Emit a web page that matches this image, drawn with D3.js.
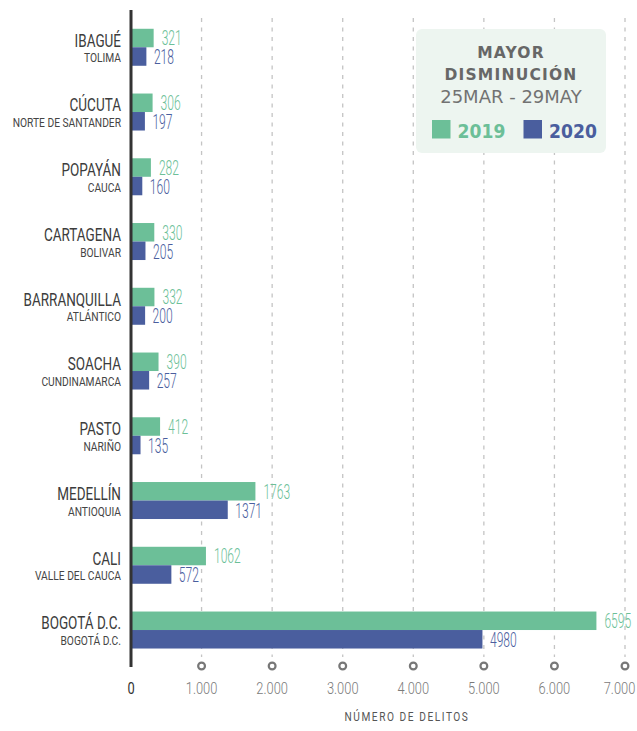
<!DOCTYPE html>
<html>
<head>
<meta charset="utf-8">
<script src="https://cdn.jsdelivr.net/npm/d3@7"></script>
<style>
  html, body { margin: 0; padding: 0; background: #ffffff; }
  svg { display: block; }
</style>
</head>
<body>
<svg id="chart" width="637" height="731"></svg>
<script>
// Cities with the largest drop in reported crimes, 25 Mar - 29 May
const cities = ["IBAGUÉ", "CÚCUTA", "POPAYÁN", "CARTAGENA", "BARRANQUILLA", "SOACHA", "PASTO", "MEDELLÍN", "CALI", "BOGOTÁ D.C."];
const departments = ["TOLIMA", "NORTE DE SANTANDER", "CAUCA", "BOLIVAR", "ATLÁNTICO", "CUNDINAMARCA", "NARIÑO", "ANTIOQUIA", "VALLE DEL CAUCA", "BOGOTÁ D.C."];
const series = ["2019", "2020"];
const values2019 = [321, 306, 282, 330, 332, 390, 412, 1763, 1062, 6595];
const values2020 = [218, 197, 160, 205, 200, 257, 135, 1371, 572, 4980];
const xTicks = [0, 1000, 2000, 3000, 4000, 5000, 6000, 7000];
const legendTitle = ["MAYOR", "DISMINUCIÓN"];
const legendPeriod = "25MAR - 29MAY";
const axisTitle = "NÚMERO DE DELITOS";

const colors = { "2019": "#6cbf98", "2020": "#4a5e9e" };
const valuesBySeries = { "2019": values2019, "2020": values2020 };

const svg = d3.select("#chart");
const narrow = "Roboto, 'Liberation Sans', sans-serif";
const wide = "'DejaVu Sans', sans-serif";

const es = d3.formatLocale({ decimal: ",", thousands: ".", grouping: [3], currency: ["$", ""] });
const fmtTick = es.format(",d");

const x = d3.scaleLinear().domain([0, 7000]).range([131, 625]);
const y = d3.scaleBand().domain(cities).range([14.9, 662.4]).paddingInner(0.4286).paddingOuter(0.2143);
const ySub = d3.scaleBand().domain(series).range([0, y.bandwidth()]);

// Horizontally compressed text, to get a condensed face
function condensed(parent, px, py, text, sx) {
  const g = parent.append("g").attr("transform", `translate(${px},${py}) scale(${sx},1)`);
  return g.append("text").attr("x", 0).attr("y", 0).text(text);
}

// Dashed vertical gridlines
const gridG = svg.append("g");
gridG.selectAll("line")
  .data(xTicks.filter(d => d > 0))
  .join("line")
  .attr("x1", d => x(d)).attr("x2", d => x(d))
  .attr("y1", 18).attr("y2", 657)
  .attr("stroke", "#c4c4c4")
  .attr("stroke-width", 1.3)
  .attr("stroke-dasharray", "4,5.5");

// Legend panel
const lg = svg.append("g");
lg.append("rect")
  .attr("x", 416).attr("y", 29).attr("width", 190).attr("height", 124)
  .attr("rx", 6).attr("fill", "#edf5f0");
legendTitle.forEach((t, i) => {
  lg.append("text")
    .attr("x", 511).attr("y", 57.5 + i * 22.7)
    .attr("text-anchor", "middle")
    .attr("font-family", wide).attr("font-weight", "bold")
    .attr("font-size", 15.5).attr("letter-spacing", 1.2)
    .attr("fill", "#676767")
    .text(t);
});
lg.append("text")
  .attr("x", 511).attr("y", 102.5)
  .attr("text-anchor", "middle")
  .attr("font-family", wide)
  .attr("font-size", 18)
  .attr("fill", "#727272")
  .text(legendPeriod);
const legendX = { "2019": 432, "2020": 523.5 };
series.forEach(s => {
  lg.append("rect")
    .attr("x", legendX[s]).attr("y", 120).attr("width", 18.5).attr("height", 18.5)
    .attr("fill", colors[s]);
  condensed(lg, legendX[s] + 25.5, 138.3, s, 0.86)
    .attr("font-family", wide).attr("font-weight", "bold")
    .attr("font-size", 20)
    .attr("fill", colors[s]);
});

// Bars
const groups = svg.append("g").selectAll("g")
  .data(cities)
  .join("g")
  .attr("transform", d => `translate(0,${y(d)})`);

series.forEach(s => {
  groups.append("rect")
    .attr("x", x(0))
    .attr("y", ySub(s))
    .attr("width", (d, i) => x(valuesBySeries[s][i]) - x(0))
    .attr("height", ySub.bandwidth())
    .attr("fill", colors[s]);
});

// Value labels
groups.each(function (d, i) {
  const g = d3.select(this);
  const bw = ySub.bandwidth();
  condensed(g, x(values2019[i]) + 8, ySub("2019") + bw - 2, values2019[i], 0.62)
    .attr("font-family", narrow).attr("font-weight", 300)
    .attr("font-size", 19.5).attr("fill", colors["2019"]);
  condensed(g, x(values2020[i]) + 7.5, ySub("2020") + bw - 1.5, values2020[i], 0.62)
    .attr("font-family", narrow).attr("font-weight", 300)
    .attr("font-size", 19.5).attr("fill", colors["2020"]);

  // City and department names
  condensed(g, 121, ySub("2020") - 0.6, cities[i], 0.73)
    .attr("text-anchor", "end")
    .attr("font-family", narrow).attr("font-weight", 400)
    .attr("font-size", 18.5).attr("fill", "#3c3c3c");
  condensed(g, 121, ySub("2020") + 15, departments[i], 0.82)
    .attr("text-anchor", "end")
    .attr("font-family", narrow).attr("font-weight", 400)
    .attr("font-size", 12.5).attr("fill", "#444444");
});

// Vertical baseline
svg.append("line")
  .attr("x1", x(0)).attr("x2", x(0))
  .attr("y1", 10).attr("y2", 667)
  .attr("stroke", "#333333").attr("stroke-width", 3);

// Bottom axis: ring markers and labels
const axisG = svg.append("g");
axisG.selectAll("circle")
  .data(xTicks.filter(d => d > 0))
  .join("circle")
  .attr("cx", d => x(d)).attr("cy", 666)
  .attr("r", 3.4)
  .attr("fill", "#ffffff")
  .attr("stroke", "#777777").attr("stroke-width", 2.2);
const lastTick = xTicks[xTicks.length - 1];
xTicks.forEach(t => {
  condensed(axisG, x(t) - (t === lastTick ? 5.5 : 0), 694, fmtTick(t), 0.78)
    .attr("text-anchor", "middle")
    .attr("font-family", narrow).attr("font-weight", t === 0 ? 400 : 300)
    .attr("font-size", 16.5)
    .attr("fill", t === 0 ? "#333333" : "#7a7a7a");
});
condensed(axisG, 407, 720.5, axisTitle, 0.78)
  .attr("text-anchor", "middle")
  .attr("font-family", narrow).attr("font-weight", 400)
  .attr("font-size", 13).attr("letter-spacing", 2)
  .attr("fill", "#555555");
</script>
</body>
</html>
